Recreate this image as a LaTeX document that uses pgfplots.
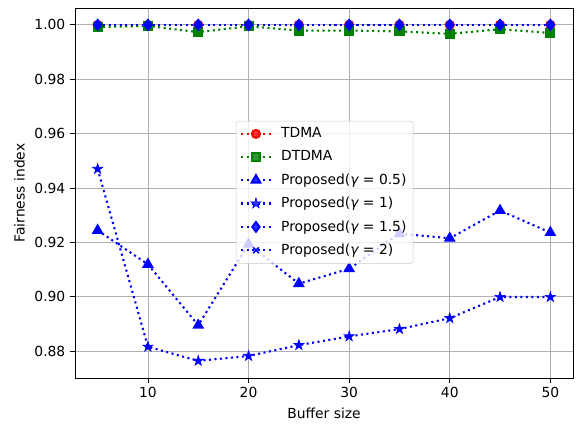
\documentclass[border=0pt]{standalone}
\usepackage{pgfplots}
\pgfplotsset{compat=1.18}
\usepackage{fontspec}
\setmainfont{DejaVu Sans}
\pgfdeclareplotmark{fstar}{%
  \pgfpathmoveto{\pgfqpointpolar{90}{\pgfplotmarksize}}%
  \pgfpathlineto{\pgfqpointpolar{126}{0.382\pgfplotmarksize}}%
  \pgfpathlineto{\pgfqpointpolar{162}{\pgfplotmarksize}}%
  \pgfpathlineto{\pgfqpointpolar{198}{0.382\pgfplotmarksize}}%
  \pgfpathlineto{\pgfqpointpolar{234}{\pgfplotmarksize}}%
  \pgfpathlineto{\pgfqpointpolar{270}{0.382\pgfplotmarksize}}%
  \pgfpathlineto{\pgfqpointpolar{306}{\pgfplotmarksize}}%
  \pgfpathlineto{\pgfqpointpolar{342}{0.382\pgfplotmarksize}}%
  \pgfpathlineto{\pgfqpointpolar{18}{\pgfplotmarksize}}%
  \pgfpathlineto{\pgfqpointpolar{54}{0.382\pgfplotmarksize}}%
  \pgfpathclose\pgfusepathqfillstroke}
\begin{document}
\fontsize{10.4pt}{12.5pt}\selectfont
\begin{tikzpicture}
\begin{axis}[
  at={(0,0)}, anchor=south west,
  scale only axis,
  width=373.5pt, height=277.5pt,
  xmin=2.75, xmax=52.25,
  ymin=0.8701, ymax=1.0062,
  xtick={10,20,30,40,50},
  ytick={0.88,0.90,0.92,0.94,0.96,0.98,1.00},
  yticklabel style={/pgf/number format/.cd,fixed,fixed zerofill,precision=2},
  /pgf/number format/assume math mode=true,
  tick label style={font=\fontsize{10.4pt}{12pt}\selectfont},
  label style={font=\fontsize{10.4pt}{12pt}\selectfont},
  xlabel={Buffer size}, ylabel={Fairness index},
  grid=major,
  major grid style={color=black!31, line width=0.6pt},
  tick align=outside, major tick length=3.6pt,
  xtick pos=left, ytick pos=left,
  axis line style={line width=0.6pt},
  every tick/.style={black, line width=0.6pt},
  legend style={at={(0.323,0.695)}, anchor=north west,
    draw=black!20, fill=white, fill opacity=0.8, text opacity=1,
    rounded corners=2pt, font=\fontsize{10.4pt}{12pt}\selectfont,
    row sep=4.1pt, inner sep=3pt,
    /tikz/every odd column/.append style={column sep=5pt}},
  legend cell align=left,
  legend image code/.code={\draw[mark repeat=2,mark phase=2,#1]
     plot coordinates {(0cm,0cm)(0.39cm,0cm)(0.78cm,0cm)};},
  every axis plot/.append style={line width=1.56pt, dash pattern=on 1.56pt off 2.57pt},
]
\addplot[color=red, mark=*, mark size=3pt, mark options={solid}]
  coordinates {(5,1.0)(10,1.0)(15,1.0)(20,1.0)(25,1.0)(30,1.0)(35,1.0)(40,1.0)(45,1.0)(50,1.0)};
\addlegendentry{TDMA}
\addplot[color=green!50!black, mark=square*, mark size=3pt, mark options={solid}]
  coordinates {(5,0.9992)(10,0.9996)(15,0.9973)(20,0.9995)(25,0.9979)(30,0.9979)(35,0.9976)(40,0.9967)(45,0.9984)(50,0.9970)};
\addlegendentry{DTDMA}
\addplot[color=blue, mark=triangle*, mark size=3.6pt, mark options={solid}]
  coordinates {(5,0.9244)(10,0.9119)(15,0.8895)(20,0.9193)(25,0.9048)(30,0.9103)(35,0.9232)(40,0.9215)(45,0.9317)(50,0.9236)};
\addlegendentry{Proposed({\itshape γ} = 0.5)}
\addplot[color=blue, mark=fstar, mark size=4pt, mark options={solid, line width=0.5pt}]
  coordinates {(5,0.9470)(10,0.8816)(15,0.8764)(20,0.8782)(25,0.8822)(30,0.8854)(35,0.8881)(40,0.8921)(45,0.8999)(50,0.8999)};
\addlegendentry{Proposed({\itshape γ} = 1)}
\addplot[color=blue, mark=diamond*, mark size=3.6pt, mark options={solid}]
  coordinates {(5,1.0)(10,1.0)(15,1.0)(20,1.0)(25,1.0)(30,1.0)(35,1.0)(40,1.0)(45,1.0)(50,1.0)};
\addlegendentry{Proposed({\itshape γ} = 1.5)}
\addplot[color=blue, mark=x, mark size=3pt, mark options={solid, line width=1.2pt}]
  coordinates {(5,1.0)(10,1.0)(15,1.0)(20,1.0)(25,1.0)(30,1.0)(35,1.0)(40,1.0)(45,1.0)(50,1.0)};
\addlegendentry{Proposed({\itshape γ} = 2)}
\end{axis}
\useasboundingbox (-56.25pt,-35.25pt) rectangle (377.25pt,283.5pt);
\end{tikzpicture}
\end{document}
